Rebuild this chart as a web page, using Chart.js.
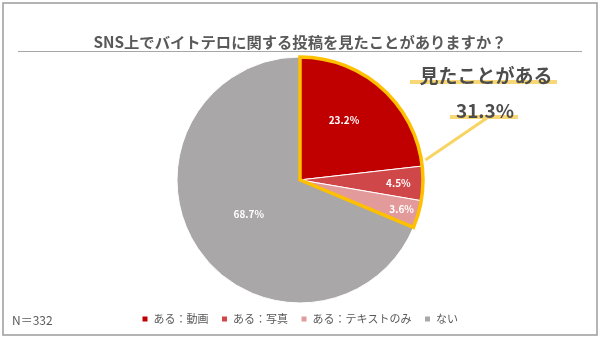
<!DOCTYPE html>
<html lang="ja">
<head>
<meta charset="utf-8">
<script src="https://cdn.jsdelivr.net/npm/chart.js@4"></script>
<style>
  html, body { margin: 0; padding: 0; background: #fff; }
  #wrap { width: 600px; height: 338px; position: relative; }
</style>
</head>
<body>
<div id="wrap"><canvas id="pieChart"></canvas></div>
<script>
// survey answers (%), N=332
const answerLabels = ['ある：動画', 'ある：写真', 'ある：テキストのみ', 'ない'];
const answerValues = [23.2, 4.5, 3.6, 68.7];
const sliceColors = ['#C00000', '#D0474A', '#E39A9A', '#A9A7A7'];
const titleText = 'SNS上でバイトテロに関する投稿を見たことがありますか？';
const calloutText = '見たことがある';
const calloutValue = 31.3;   // sum of the three "ある" answers
const sampleText = 'N＝332';

const FONT = '"Noto Sans CJK JP", "Noto Sans", sans-serif';
const TEXT_GRAY = '#595959';

// where each value label sits: share of the radius, and a small angle nudge (rad)
const labelRadius = [0.6, 0.8, 0.86, 0.5];
const labelNudge = [-0.09, 0, 0, 0];

const framePlugin = {
    id: 'frame',
    beforeDraw(chart) {
        const ctx = chart.ctx;
        ctx.save();
        ctx.fillStyle = '#fff';
        ctx.fillRect(0, 0, chart.width, chart.height);
        ctx.strokeStyle = '#9c9c9c';
        ctx.lineWidth = 1.5;
        ctx.strokeRect(3, 3, chart.width - 6, chart.height - 6);
        // rule under the title
        ctx.strokeStyle = '#a6a6a6';
        ctx.lineWidth = 1;
        ctx.beginPath();
        ctx.moveTo(18, 51.5);
        ctx.lineTo(582, 51.5);
        ctx.stroke();
        ctx.restore();
    }
};

const pieExtras = {
    id: 'pieExtras',
    afterDatasetsDraw(chart) {
        const ctx = chart.ctx;
        const arcs = chart.getDatasetMeta(0).data;
        const first = arcs[0];
        const cx = first.x, cy = first.y, r = first.outerRadius;

        // percentage labels inside the slices
        ctx.save();
        ctx.fillStyle = '#fff';
        ctx.font = 'bold 10px ' + FONT;
        ctx.textAlign = 'center';
        ctx.textBaseline = 'middle';
        arcs.forEach((arc, i) => {
            const mid = (arc.startAngle + arc.endAngle) / 2 + labelNudge[i];
            const d = r * labelRadius[i];
            ctx.fillText(answerValues[i].toFixed(1) + '%', cx + Math.cos(mid) * d, cy + Math.sin(mid) * d);
        });
        ctx.restore();

        // yellow outline around all "ある" slices
        const start = arcs[0].startAngle;
        const end = arcs[2].endAngle;
        ctx.save();
        ctx.strokeStyle = '#FFC000';
        ctx.lineWidth = 3.5;
        ctx.lineJoin = 'miter';
        ctx.beginPath();
        ctx.moveTo(cx, cy);
        ctx.arc(cx, cy, r, start, end);
        ctx.closePath();
        ctx.stroke();

        // callout line and text
        const a = arcs[0].endAngle - 0.045;
        const px = cx + Math.cos(a) * (r + 4);
        const py = cy + Math.sin(a) * (r + 4);
        ctx.strokeStyle = '#F8D462';
        ctx.lineWidth = 3;
        ctx.beginPath();
        ctx.moveTo(px, py);
        ctx.lineTo(487, 118);
        ctx.stroke();

        ctx.fillStyle = '#F8D876';
        ctx.fillRect(410, 80, 147, 4);
        ctx.fillRect(450, 115, 68, 4);

        ctx.fillStyle = '#4d4d4d';
        ctx.textAlign = 'center';
        ctx.textBaseline = 'middle';
        ctx.font = 'bold 19px ' + FONT;
        ctx.fillText(calloutText, 486, 76);
        ctx.fillText(calloutValue.toFixed(1) + '%', 485, 111);

        ctx.font = '12px ' + FONT;
        ctx.fillStyle = TEXT_GRAY;
        ctx.textAlign = 'left';
        ctx.fillText(sampleText, 12, 320);
        ctx.restore();
    }
};

const ctx = document.getElementById('pieChart').getContext('2d');
new Chart(ctx, {
    type: 'pie',
    data: {
        labels: answerLabels,
        datasets: [{
            data: answerValues,
            backgroundColor: sliceColors,
            borderColor: '#fff',
            borderWidth: 1,
            radius: 123,
            clip: false
        }]
    },
    options: {
        responsive: true,
        maintainAspectRatio: false,
        animation: false,
        layout: { padding: { top: 0, bottom: 3.5, left: 0, right: 0 } },
        plugins: {
            title: {
                display: true,
                text: titleText,
                color: TEXT_GRAY,
                font: { family: FONT, size: 15.3, weight: 'bold' },
                padding: { top: 33, bottom: 8 }
            },
            legend: {
                position: 'bottom',
                labels: {
                    color: TEXT_GRAY,
                    font: { family: FONT, size: 11 },
                    boxWidth: 6,
                    boxHeight: 6,
                    padding: 13
                }
            },
            tooltip: { enabled: false }
        }
    },
    plugins: [framePlugin, pieExtras]
});
</script>
</body>
</html>
